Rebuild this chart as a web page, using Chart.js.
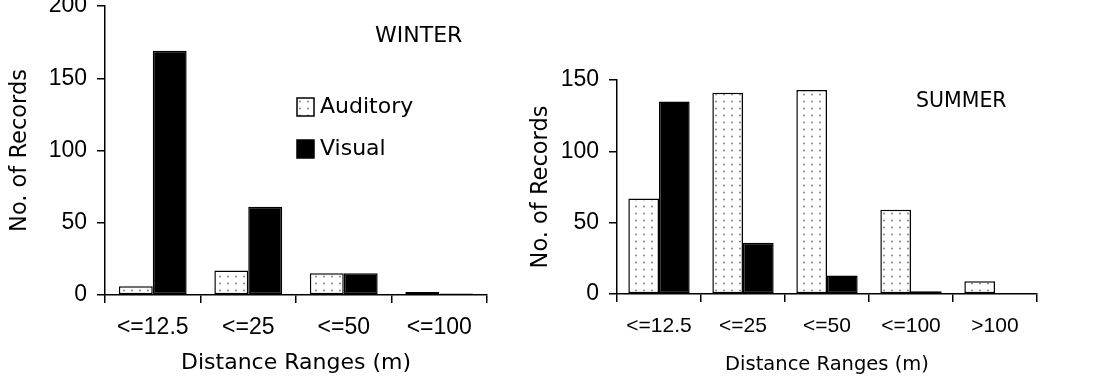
<!DOCTYPE html>
<html><head><meta charset="utf-8">
<script src="https://cdn.jsdelivr.net/npm/chart.js@4"></script>
<style>
html,body{margin:0;padding:0;background:#fff;width:1116px;height:386px;overflow:hidden}
#w{position:absolute;left:0;top:0;width:520px;height:386px}
#s{position:absolute;left:520px;top:0;width:596px;height:386px}
</style></head><body>
<div id="w"><canvas id="cw" width="520" height="386"></canvas></div>
<div id="s"><canvas id="cs" width="596" height="386"></canvas></div>
<script>
const winterCategories = ['<=12.5', '<=25', '<=50', '<=100'];
const winterAuditory = [6, 17, 15, 2];
const winterVisual = [169, 61, 15, 1];
const winterYTicks = [0, 50, 100, 150, 200];

const summerCategories = ['<=12.5', '<=25', '<=50', '<=100', '>100'];
const summerAuditory = [67, 141, 143, 59, 9];
const summerVisual = [135, 36, 13, 2, 0];
const summerYTicks = [0, 50, 100, 150];

const seriesNames = ['Auditory', 'Visual'];
const panelTitles = ['WINTER', 'SUMMER'];
const xTitle = 'Distance Ranges (m)';
const yTitle = 'No. of Records';

function dotPattern() {
  const c = document.createElement('canvas');
  c.width = 8; c.height = 7;
  const g = c.getContext('2d');
  g.fillStyle = '#fff'; g.fillRect(0, 0, 8, 7);
  g.fillStyle = '#777';
  g.beginPath(); g.arc(4, 3.5, 0.9, 0, Math.PI * 2); g.fill();
  return g.createPattern(c, 'repeat');
}
const dots = dotPattern();

const overlay = {
  id: 'overlay',
  afterDraw(chart, args, o) {
    const ctx = chart.ctx;
    ctx.save();
    ctx.fillStyle = '#000';
    ctx.textBaseline = 'middle';
    ctx.textAlign = 'left';
    ctx.font = o.titleFont;
    ctx.fillText(o.title, o.tx, o.ty);
    if (o.legend) {
      ctx.font = o.legendFont;
      chart.data.datasets.forEach((ds, i) => {
        const y = o.ly + i * o.lstep;
        ctx.fillStyle = ds.backgroundColor;
        ctx.fillRect(o.lx, y - 9, 17, 18);
        ctx.strokeStyle = '#000';
        ctx.lineWidth = 1.5;
        ctx.strokeRect(o.lx, y - 9, 17, 18);
        ctx.fillStyle = '#000';
        ctx.fillText(ds.label, o.lx + 23, y);
      });
    }
    ctx.restore();
  }
};

function makeChart(id, cats, aud, vis, yTicks, o) {
  const lineCol = '#000';
  return new Chart(document.getElementById(id), {
    type: 'bar',
    data: {
      labels: cats,
      datasets: [
        { label: seriesNames[0], data: aud, backgroundColor: dots, borderColor: '#000', borderWidth: 1.5, borderSkipped: false,
          categoryPercentage: o.catPct, barPercentage: 1 },
        { label: seriesNames[1], data: vis, backgroundColor: '#000', borderColor: '#000', borderWidth: 1.5, borderSkipped: false,
          categoryPercentage: o.catPct, barPercentage: 1 }
      ]
    },
    options: {
      responsive: false,
      animation: false,
      devicePixelRatio: 1,
      layout: { padding: o.padding },
      plugins: { legend: { display: false }, tooltip: { enabled: false }, overlay: o.overlay },
      scales: {
        x: {
          type: 'category',
          grid: { offset: true, drawOnChartArea: false, drawTicks: true, tickLength: 8, color: lineCol, lineWidth: 1.5 },
          border: { display: true, color: lineCol, width: 1.5 },
          ticks: { color: '#000', font: { family: 'Liberation Sans', size: o.xTickSize }, padding: o.xTickPad, maxRotation: 0, autoSkip: false },
          title: { display: true, text: xTitle, color: '#000', font: { family: 'DejaVu Sans', size: o.xTitleSize }, padding: { top: 0, bottom: o.xTitlePad } },
          afterFit: s => { s.height = o.xh; s.paddingLeft = 0; s.paddingRight = 0; }
        },
        y: {
          min: 0, max: yTicks[yTicks.length - 1],
          afterBuildTicks: s => { s.ticks = yTicks.map(v => ({ value: v })); },
          grid: { drawOnChartArea: false, drawTicks: true, tickLength: 8, color: lineCol, lineWidth: 1.5 },
          border: { display: true, color: lineCol, width: 1.5 },
          ticks: { color: '#000', font: { family: 'Liberation Sans', size: 23 }, padding: 10 },
          title: { display: true, text: yTitle, color: '#000', font: { family: 'DejaVu Sans', size: 22.5 }, padding: { top: o.yTitlePad, bottom: 0 } },
          afterFit: s => { s.width = o.yw; s.paddingTop = 0; s.paddingBottom = 0; }
        }
      }
    },
    plugins: [overlay]
  });
}

makeChart('cw', winterCategories, winterAuditory, winterVisual, winterYTicks, {
  catPct: 0.71,
  padding: { left: 0, top: 6, right: 33, bottom: 0 },
  xh: 91, yw: 105,
  xTickSize: 23, xTickPad: 11, xTitleSize: 22, xTitlePad: 10, yTitlePad: 7,
  overlay: { title: panelTitles[0], titleFont: '22px "DejaVu Sans"', tx: 375, ty: 36,
             legend: true, legendFont: '22px "DejaVu Sans"', lx: 297, ly: 107, lstep: 42 }
});

makeChart('cs', summerCategories, summerAuditory, summerVisual, summerYTicks, {
  catPct: 0.73,
  padding: { left: 0, top: 80, right: 79, bottom: 0 },
  xh: 92, yw: 97,
  xTickSize: 21, xTickPad: 12, xTitleSize: 19.5, xTitlePad: 9, yTitlePad: 8,
  overlay: { title: panelTitles[1], titleFont: '20.5px "DejaVu Sans"', tx: 396, ty: 102, legend: false }
});
</script>
</body></html>
